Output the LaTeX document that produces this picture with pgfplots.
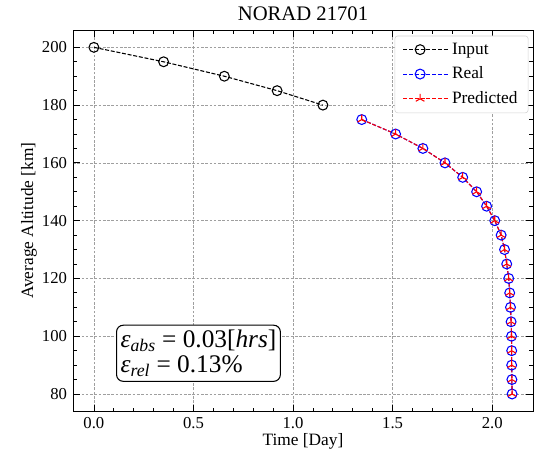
\documentclass[border=0pt]{standalone}
\usepackage{fontspec}
\setmainfont{Liberation Serif}
\usepackage{pgfplots}
\pgfplotsset{compat=1.18}

\definecolor{realblue}{RGB}{0,0,255}
\definecolor{predred}{RGB}{255,0,0}

\begin{document}
\fontsize{13}{15}\selectfont
\begin{tikzpicture}
\path[use as bounding box] (-54.75pt,-37.5pt) rectangle (356.25pt,308.5pt);
\begin{axis}[
    scale only axis,
    width=345pt, height=286pt,
    xmin=-0.105, xmax=2.205,
    ymin=74, ymax=206,
    xtick={0,0.5,1,1.5,2},
    ytick={80,100,...,200},
    minor x tick num=4,
    minor y tick num=3,
    xticklabel style={/pgf/number format/.cd, fixed, fixed zerofill, precision=1},
    /pgf/number format/assume math mode=true,
    ticklabel style={font=\fontsize{12.5}{14}\selectfont},
    tick align=inside,
    xtick pos=both, ytick pos=both,
    major tick length=5pt, minor tick length=2.8pt,
    tick style={black, line width=0.6pt},
    grid=major,
    grid style={dash pattern=on 2pt off 1.2pt, gray!75, line width=0.4pt},
    axis line style={line width=0.6pt},
    title={NORAD 21701},
    title style={font=\fontsize{15.5}{17}\selectfont, yshift=-3.5pt},
    xlabel={Time [Day]},
    ylabel={Average Altitude [km]},
    xlabel style={yshift=5pt},
    ylabel style={yshift=-5pt},
    legend cell align=left,
    legend image code/.code={
        \draw[mark repeat=2, mark phase=2] plot coordinates {(0cm,0cm) (0.44cm,0cm) (0.88cm,0cm)};
        \path (0cm,0cm) -- (0.88cm+9pt,0cm);
    },
    legend style={draw=gray!35, rounded corners=2pt, font=\fontsize{13}{15}\selectfont,
        row sep=3.6pt, inner xsep=6pt, inner ysep=3pt, at={(0.99,0.985)}, anchor=north east},
    every axis plot/.append style={line width=0.8pt, dash pattern=on 3pt off 1.3pt},
]
\addplot[black, mark=o, mark size=3.7pt, mark options={solid, line width=0.8pt}] coordinates {
    (0.00,200) (0.35,195) (0.655,190) (0.92,185) (1.15,180)
};
\addlegendentry{Input}
\addplot[realblue, mark=o, mark size=3.7pt, mark options={solid, line width=0.8pt}] coordinates {
    (1.345,175) (1.515,170) (1.652,165) (1.763,160) (1.852,155) (1.922,150)
    (1.972,145) (2.013,140) (2.045,135) (2.062,130) (2.073,125) (2.083,120)
    (2.088,115) (2.092,110) (2.095,105) (2.097,100) (2.098,95) (2.098,90)
    (2.099,85) (2.100,80)
};
\addlegendentry{Real}
\addplot[predred, mark=Mercedes star, mark size=3.7pt, mark options={solid, line width=0.8pt}] coordinates {
    (1.345,175) (1.515,170) (1.652,165) (1.763,160) (1.852,155) (1.922,150)
    (1.972,145) (2.013,140) (2.045,135) (2.062,130) (2.073,125) (2.083,120)
    (2.088,115) (2.092,110) (2.095,105) (2.097,100) (2.098,95) (2.098,90)
    (2.099,85) (2.100,80)
};
\addlegendentry{Predicted}
\node[draw=black, line width=0.8pt, rounded corners=5pt, fill=white, align=left,
      inner xsep=3pt, inner ysep=3.5pt, font=\fontsize{19}{18.5}\selectfont]
    at (axis cs:0.525,94.1)
    {\textit{ε}\textsubscript{\textit{abs}} = 0.03[\textit{hrs}]\\
     \textit{ε}\textsubscript{\textit{rel}} = 0.13\%};
\end{axis}
\end{tikzpicture}
\end{document}
